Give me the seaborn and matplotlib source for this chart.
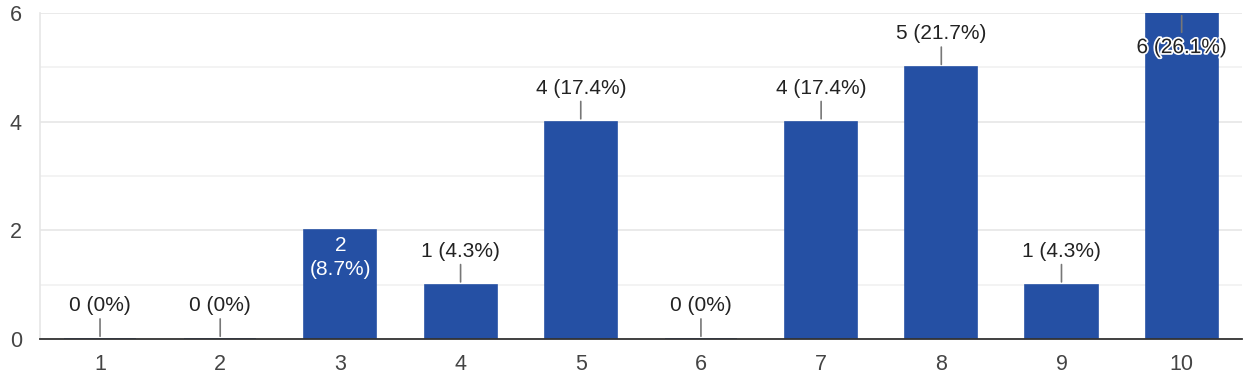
import matplotlib
matplotlib.use("Agg")
import matplotlib.pyplot as plt
import matplotlib.patheffects as pe
import seaborn as sns
import pandas as pd

# rating scale 1-10, response counts
ratings = ['1', '2', '3', '4', '5', '6', '7', '8', '9', '10']
counts = [0, 0, 2, 1, 4, 0, 4, 5, 1, 6]
pct_labels = ['0%', '0%', '8.7%', '4.3%', '17.4%', '0%', '17.4%', '21.7%', '4.3%', '26.1%']

df = pd.DataFrame({'rating': ratings, 'count': counts})

sns.set_style('white')
plt.rcParams['font.family'] = ['Liberation Sans', 'DejaVu Sans']

bar_color = '#2550a4'
fig = plt.figure(figsize=(12.48, 3.78), dpi=100)
ax = fig.add_axes([0.032, 0.103, 0.963, 0.863])

sns.barplot(data=df, x='rating', y='count', color=bar_color, width=0.6,
            edgecolor=bar_color, linewidth=1.2, saturation=1, ax=ax, zorder=3)

ax.set_ylim(0, 6)
ax.set_xlim(-0.5, len(ratings) - 0.5)
ax.set_yticks([0, 2, 4, 6])
ax.set_yticks([1, 3, 5], minor=True)
ax.grid(axis='y', which='major', color='#e6e6e6', linewidth=1.2, zorder=0)
ax.grid(axis='y', which='minor', color='#f1f1f1', linewidth=1.2, zorder=0)
ax.set_axisbelow(True)

for s in ['top', 'right']:
    ax.spines[s].set_visible(False)
ax.spines['left'].set_color('#e6e6e6')
ax.spines['left'].set_linewidth(1.2)
ax.spines['bottom'].set_color('#333333')
ax.spines['bottom'].set_linewidth(1.3)
ax.spines['bottom'].set_zorder(4)

ax.set_xlabel('')
ax.set_ylabel('')
ax.tick_params(axis='both', which='both', length=0, labelsize=15.5, colors='#444444')
ax.tick_params(axis='x', pad=11)
ax.tick_params(axis='y', pad=13)

lead_col = '#777777'
fs = 15
for i, (c, p) in enumerate(zip(counts, pct_labels)):
    if c == 6:
        # label drawn inside the top of the tallest bar
        ax.annotate('', xy=(i, c), xytext=(0, -16), textcoords='offset points',
                    arrowprops=dict(arrowstyle='-', color=lead_col, lw=1.2), zorder=5)
        ax.annotate(f'{c} ({p})', xy=(i, c), xytext=(0, -25), textcoords='offset points',
                    ha='center', va='center', fontsize=fs, color='#222222', zorder=6,
                    path_effects=[pe.withStroke(linewidth=2.5, foreground='white')])
    elif c == 2:
        ax.annotate(f'{c}\n({p})', xy=(i, c), xytext=(0, -4), textcoords='offset points',
                    ha='center', va='top', fontsize=fs, color='white', zorder=6,
                    linespacing=1.35)
    else:
        ax.annotate('', xy=(i, c), xytext=(0, 16.5), textcoords='offset points',
                    arrowprops=dict(arrowstyle='-', color=lead_col, lw=1.2), zorder=5)
        ax.annotate(f'{c} ({p})', xy=(i, c), xytext=(0, 24), textcoords='offset points',
                    ha='center', va='center', fontsize=fs, color='#222222', zorder=6)

fig.savefig('out.png', dpi=100)
